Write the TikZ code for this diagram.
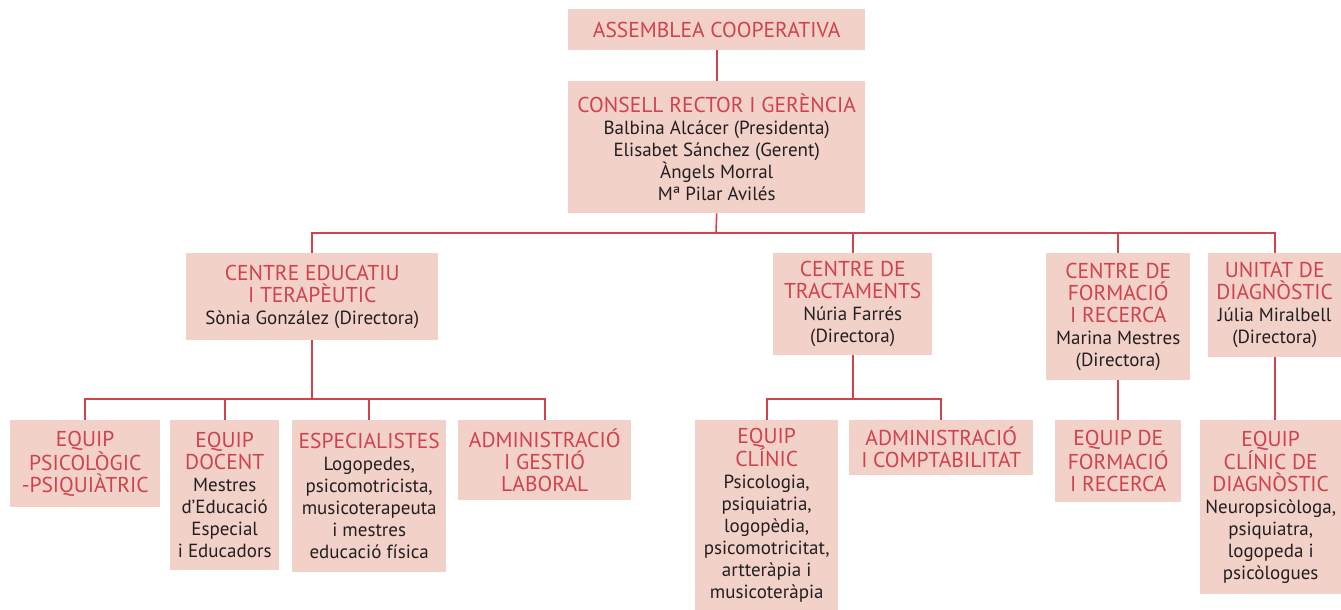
\documentclass[tikz,border=0pt]{standalone}
\usepackage{fontspec}
\setmainfont{PT Sans}
\definecolor{boxfill}{HTML}{F2D1C9}
\definecolor{redtxt}{HTML}{D0424C}
\definecolor{linecol}{HTML}{D0424C}
\definecolor{bodytxt}{HTML}{231F20}
\newcommand{\T}[1]{{\color{redtxt}\fontsize{21.5}{22}\selectfont #1}}
\tikzset{
  box/.style={fill=boxfill, draw=none, inner xsep=2pt, inner ysep=0pt, align=center,
    anchor=north west, text=bodytxt, font=\fontsize{19}{22}\selectfont},
  conn/.style={draw=linecol, line width=1.6pt}
}
\begin{document}
\begin{tikzpicture}[x=1pt,y=-1pt]
\useasboundingbox (0,0) rectangle (1341,610);
% top
\node[box, minimum width=297pt, minimum height=41pt] (assem) at (568,9) {\T{ASSEMBLEA COOPERATIVA}};
\node[box, minimum width=297pt, minimum height=132pt] (consell) at (568,81) {\T{CONSELL RECTOR I GERÈNCIA}\\Balbina Alcácer (Presidenta)\\Elisabet Sánchez (Gerent)\\Àngels Morral\\Mª Pilar Avilés};
% second row
\node[box, minimum width=252pt, minimum height=87pt] (edu) at (186,253) {\T{CENTRE EDUCATIU}\\\T{I TERAPÈUTIC}\\Sònia González (Directora)};
\node[box, minimum width=159pt, minimum height=102pt] (trac) at (773,253) {\T{CENTRE DE}\\\T{TRACTAMENTS}\\Núria Farrés\\(Directora)};
\node[box, minimum width=144pt, minimum height=127pt] (form) at (1046,253) {\T{CENTRE DE}\\\T{FORMACIÓ}\\\T{I RECERCA}\\Marina Mestres\\(Directora)};
\node[box, minimum width=133pt, minimum height=104pt] (unit) at (1208,253) {\T{UNITAT DE}\\\T{DIAGNÒSTIC}\\Júlia Miralbell\\(Directora)};
% third row
\node[box, minimum width=150pt, minimum height=87pt] (psi) at (10,420) {\T{EQUIP}\\\T{PSICOLÒGIC}\\\T{-PSIQUIÀTRIC}};
\node[box, minimum width=109pt, minimum height=150pt] (doc) at (170,420) {\T{EQUIP}\\\T{DOCENT}\\Mestres\\d’Educació\\Especial\\i Educadors};
\node[box, minimum width=154pt, minimum height=152pt] (esp) at (292,420) {\T{ESPECIALISTES}\\Logopedes,\\psicomotricista,\\musicoterapeuta\\i mestres\\educació física};
\node[box, minimum width=173pt, minimum height=80pt] (adml) at (458,420) {\T{ADMINISTRACIÓ}\\\T{I GESTIÓ}\\\T{LABORAL}};
\node[box, minimum width=143pt, minimum height=190pt] (clin) at (695,420) {\T{EQUIP}\\\T{CLÍNIC}\\Psicologia,\\psiquiatria,\\logopèdia,\\psicomotricitat,\\artteràpia i\\musicoteràpia};
\node[box, minimum width=184pt, minimum height=55pt] (admc) at (849,420) {\T{ADMINISTRACIÓ}\\\T{I COMPTABILITAT}};
\node[box, minimum width=126pt, minimum height=82pt] (eform) at (1055,420) {\T{EQUIP DE}\\\T{FORMACIÓ}\\\T{I RECERCA}};
\node[box, minimum width=141pt, minimum height=174pt] (diag) at (1200,420) {\T{EQUIP}\\\T{CLÍNIC DE}\\\T{DIAGNÒSTIC}\\Neuropsicòloga,\\psiquiatra,\\logopeda i\\psicòlogues};
% bus coordinates
\coordinate (bus1) at (716,233);
\coordinate (bus2) at (313,399);
\coordinate (bus3) at (853,399);
% connectors
\draw[conn] (assem.south) -- (consell.north);
\draw[conn] (consell.south) -- (bus1);
\draw[conn] (edu.north) -- (edu.north |- bus1) -- (unit.north |- bus1) -- (unit.north);
\draw[conn] (trac.north) -- (trac.north |- bus1);
\draw[conn] (form.north) -- (form.north |- bus1);
\draw[conn] (edu.south) -- (edu.south |- bus2);
\draw[conn] (psi.north) -- (psi.north |- bus2) -- (adml.north |- bus2) -- (adml.north);
\draw[conn] (doc.north) -- (doc.north |- bus2);
\draw[conn] (esp.north) -- (esp.north |- bus2);
\draw[conn] (trac.south) -- (trac.south |- bus3);
\draw[conn] (clin.north) -- (clin.north |- bus3) -- (admc.north |- bus3) -- (admc.north);
\draw[conn] (form.south) -- (eform.north -| form.south);
\draw[conn] (unit.south) -- (diag.north -| unit.south);
\end{tikzpicture}
\end{document}
